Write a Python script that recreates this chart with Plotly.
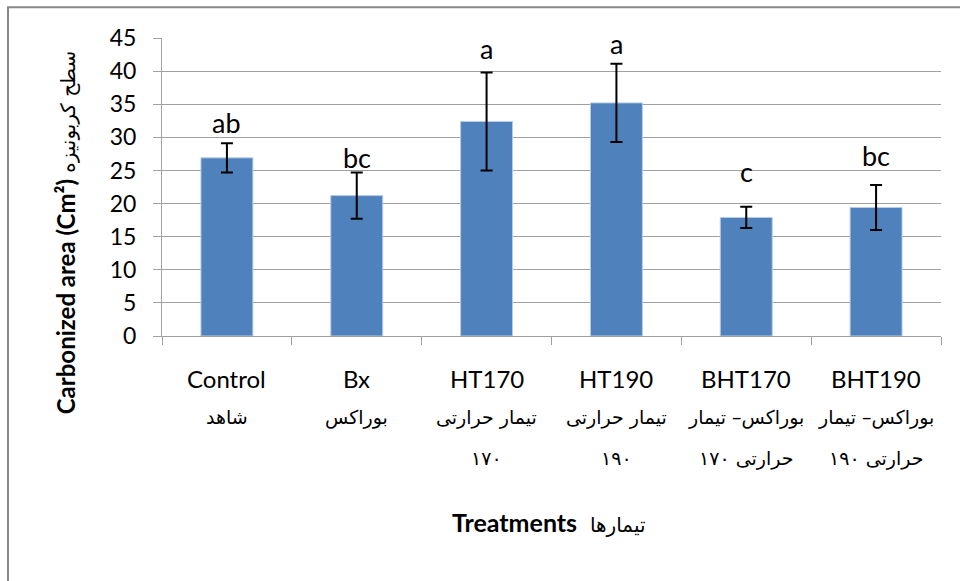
import plotly.graph_objects as go

# ---- data ----
categories = ["Control", "Bx", "HT170", "HT190", "BHT170", "BHT190"]
persian_line1 = ["شاهد", "بوراکس", "تیمار حرارتی", "تیمار حرارتی",
                 "بوراکس– تیمار", "بوراکس– تیمار"]
persian_line2 = ["", "", "۱۷۰", "۱۹۰", "حرارتی ۱۷۰", "حرارتی ۱۹۰"]
means = [26.9, 21.2, 32.4, 35.2, 17.9, 19.4]
errors = [2.2, 3.5, 7.4, 5.9, 1.6, 3.4]
letters = ["ab", "bc", "a", "a", "c", "bc"]
letter_y = [32.3, 27.0, 43.4, 44.2, 24.8, 27.3]
y_ticks = [0, 5, 10, 15, 20, 25, 30, 35, 40, 45]

LATIN = "Lato, 'Open Sans', sans-serif"
ARABIC = "'DejaVu Sans', sans-serif"
GRID = "#a0a0a0"

fig = go.Figure()
fig.add_trace(go.Bar(
    x=categories, y=means,
    width=0.4,
    marker=dict(color="#4F81BD", line=dict(color="#b8cbe4", width=1)),
    error_y=dict(type="data", array=errors, visible=True,
                 color="black", thickness=2, width=6),
    hoverinfo="x+y",
))

annotations = []
for c, t, yv in zip(categories, letters, letter_y):
    annotations.append(dict(x=c, y=yv, xref="x", yref="y", text=t, showarrow=False,
                            font=dict(family=LATIN, size=27, color="black"),
                            yanchor="middle"))
for c, l1, l2, l3 in zip(categories, categories, persian_line1, persian_line2):
    annotations.append(dict(x=c, y=0, xref="x", yref="paper", text=l1, showarrow=False,
                            font=dict(family=LATIN, size=24, color="black"),
                            yanchor="middle", yshift=-42))
    annotations.append(dict(x=c, y=0, xref="x", yref="paper", text=l2, showarrow=False,
                            font=dict(family=ARABIC, size=19, color="black"),
                            yanchor="middle", yshift=-81))
    if l3:
        annotations.append(dict(x=c, y=0, xref="x", yref="paper", text=l3, showarrow=False,
                                font=dict(family=ARABIC, size=19, color="black"),
                                yanchor="middle", yshift=-122))

annotations.append(dict(
    x=0.5, y=0, xref="paper", yref="paper", showarrow=False, yanchor="middle",
    yshift=-186, xshift=-3,
    text="<b>Treatments</b>  <span style='font-family:DejaVu Sans;font-size:20px'>تیمارها</span>",
    font=dict(family=LATIN, size=25, color="black")))
annotations.append(dict(
    x=0, y=(336 - 48) / 298.3, xref="paper", yref="paper", showarrow=False, textangle=-90,
    xanchor="center", yanchor="top", xshift=-97,
    text="<b>Carbonized area (Cm²)</b> <span style='font-family:DejaVu Sans;font-size:20px'>سطح کربونیزه</span>",
    font=dict(family=LATIN, size=24, color="black")))

fig.update_layout(
    width=960, height=581,
    margin=dict(l=162, r=19, t=38, b=245, pad=0),
    paper_bgcolor="white", plot_bgcolor="white",
    showlegend=False,
    bargap=0.6,
    annotations=annotations,
    shapes=[dict(type="rect", xref="paper", yref="paper",
                 x0=-0.1977, x1=1.2, y0=-1.2, y1=1.103,
                 line=dict(color="#888888", width=2), fillcolor="rgba(0,0,0,0)", layer="below")],
    xaxis=dict(showticklabels=False, showline=True, linecolor=GRID, linewidth=1,
               ticks="outside", tickson="boundaries", ticklen=8, tickcolor=GRID,
               showgrid=False, zeroline=False),
    yaxis=dict(range=[0, 45], tickvals=y_ticks, showline=True, linecolor=GRID, linewidth=1,
               ticks="outside", ticklen=8, tickcolor=GRID,
               showgrid=True, gridcolor=GRID, gridwidth=1, zeroline=False,
               tickfont=dict(family=LATIN, size=23, color="black"),
               ticklabelstandoff=12),
)

fig.write_html("out.html", config={"displayModeBar": False},
               post_script="document.body.style.margin='0';document.body.style.padding='0';")
